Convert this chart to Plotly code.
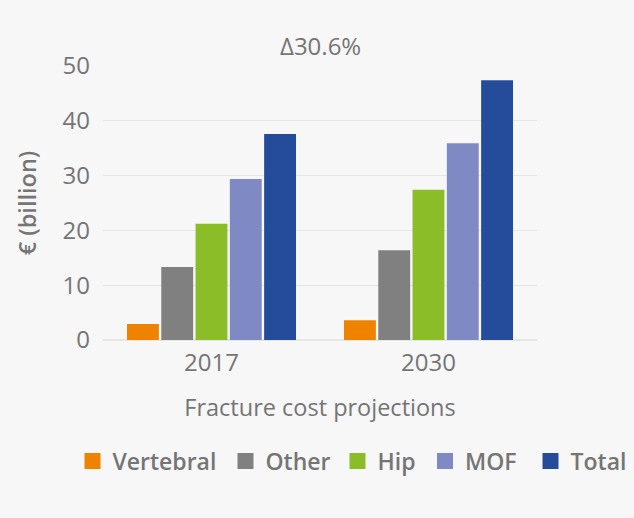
import plotly.graph_objects as go

categories = ["2017", "2030"]
series_names = ["Vertebral", "Other", "Hip", "MOF", "Total"]
vertebral = [2.9, 3.6]
other = [13.3, 16.4]
hip = [21.2, 27.4]
mof = [29.4, 35.9]
total = [37.6, 47.4]
colors = ["#EE8300", "#808080", "#8BBD28", "#7F8AC5", "#244C9A"]
y_ticks = [0, 10, 20, 30, 40, 50]
annotation_text = "Δ30.6%"

values = [vertebral, other, hip, mof, total]
TXT = "#757575"
FONT = "Open Sans"
W, H = 634, 518
legend_square_centers = [92.5, 245.5, 357.5, 445, 550.5]

fig = go.Figure()
for name, vals, col in zip(series_names, values, colors):
    fig.add_trace(go.Bar(x=categories, y=vals, name=name, marker_color=col,
                         marker_line_width=0, showlegend=False))

legend_layout = {}
for i, (name, col, cx) in enumerate(zip(series_names, colors, legend_square_centers)):
    key = "legend" if i == 0 else f"legend{i+1}"
    fig.add_trace(go.Scatter(x=[None], y=[None], mode="markers", name=name,
                             marker=dict(symbol="square", size=20, color=col),
                             showlegend=True, legend=key))
    legend_layout[key] = dict(orientation="h", xref="container", yref="container",
                              x=(cx - 20) / W, xanchor="left", y=1 - 461 / H, yanchor="middle",
                              font=dict(size=23, weight=600, color=TXT), itemclick=False,
                              borderwidth=0, bgcolor="rgba(0,0,0,0)")

fig.update_layout(
    width=W, height=H,
    margin=dict(l=103, r=97, t=66, b=178, autoexpand=False),
    paper_bgcolor="#F7F7F7", plot_bgcolor="#F7F7F7",
    font=dict(family=FONT, color=TXT, size=23),
    barmode="group", bargap=0.21, bargroupgap=0.07,
    showlegend=True,
    annotations=[dict(text=annotation_text, xref="paper", yref="paper", x=0.5, y=1,
                      yanchor="middle", yshift=21, showarrow=False,
                      font=dict(size=24, color=TXT))],
    **legend_layout,
)
fig.update_yaxes(range=[0, 50], tickvals=y_ticks, showgrid=True, gridcolor="#E6E6E6",
                 gridwidth=1, zeroline=True, zerolinecolor="#E6E6E6", ticklabelstandoff=12,
                 tickfont=dict(size=24, color=TXT),
                 title=dict(text="€ (billion)", standoff=19,
                            font=dict(size=23.5, weight=600, color=TXT)))
fig.update_xaxes(type="category", showgrid=False, showline=False,
                 tickfont=dict(size=24, color=TXT), ticklabelstandoff=6,
                 title=dict(text="Fracture cost projections", standoff=22,
                            font=dict(size=23.5, color=TXT)))

fig.write_html("out.html", config={"displayModeBar": False},
               post_script="document.body.style.margin='0';")
